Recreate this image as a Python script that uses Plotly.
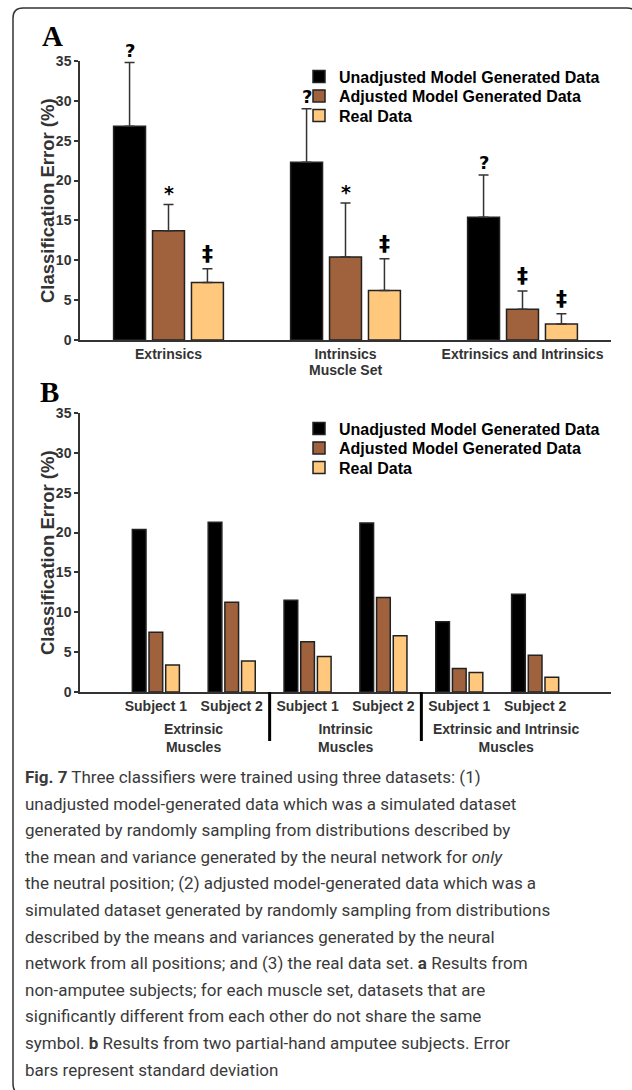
import plotly.graph_objects as go

W, H = 632, 1090

# ---------------- data ----------------
series_names = ["Unadjusted Model Generated Data", "Adjusted Model Generated Data", "Real Data"]
series_colors = ["#000000", "#A0623C", "#FFC87D"]

# Panel A (non-amputee subjects), mean and SD
muscle_sets_a = ["Extrinsics", "Intrinsics", "Extrinsics and Intrinsics"]
unadj_a = [26.8, 22.3, 15.4]
unadj_a_sd = [8.0, 6.7, 5.3]
adj_a = [13.7, 10.4, 3.85]
adj_a_sd = [3.3, 6.8, 2.3]
real_a = [7.2, 6.2, 2.0]
real_a_sd = [1.75, 4.0, 1.3]
sig_unadj_a = ["?", "?", "?"]
sig_adj_a = ["*", "*", "\u2021"]
sig_real_a = ["\u2021", "\u2021", "\u2021"]
x_title_a = "Muscle Set"

# Panel B (partial-hand amputee subjects)
subjects_b = ["Subject 1", "Subject 2", "Subject 1", "Subject 2", "Subject 1", "Subject 2"]
groups_b = ["Extrinsic<br>Muscles", "Intrinsic<br>Muscles", "Extrinsic and Intrinsic<br>Muscles"]
unadj_b = [20.4, 21.3, 11.5, 21.2, 8.8, 12.25]
adj_b = [7.5, 11.25, 6.3, 11.85, 2.95, 4.6]
real_b = [3.4, 3.9, 4.45, 7.05, 2.45, 1.85]

y_title = "Classification Error (%)"

caption_lines = [
    "<b>Fig. 7</b> Three classifiers were trained using three datasets: (1)",
    "unadjusted model-generated data which was a simulated dataset",
    "generated by randomly sampling from distributions described by",
    "the mean and variance generated by the neural network for <i>only</i>",
    "the neutral position; (2) adjusted model-generated data which was a",
    "simulated dataset generated by randomly sampling from distributions",
    "described by the means and variances generated by the neural",
    "network from all positions; and (3) the real data set. <b>a</b> Results from",
    "non-amputee subjects; for each muscle set, datasets that are",
    "significantly different from each other do not share the same",
    "symbol. <b>b</b> Results from two partial-hand amputee subjects. Error",
    "bars represent standard deviation",
]

# ---------------- helpers (page pixel -> paper fraction) ----------------
def px(x):
    return x / W

def py(y):
    return 1 - y / H

AX_FONT = "Liberation Sans, Arial, sans-serif"
AX_COLOR = "#333333"
TICKFONT = dict(family=AX_FONT, size=14, color=AX_COLOR, weight="bold")

fig = go.Figure()

legend_ids_a = ["legend", "legend2", "legend3"]
legend_ids_b = ["legend4", "legend5", "legend6"]

xa = list(range(len(muscle_sets_a)))
for name, col, vals, sds, lg in zip(series_names, series_colors,
                                    [unadj_a, adj_a, real_a],
                                    [unadj_a_sd, adj_a_sd, real_a_sd], legend_ids_a):
    fig.add_trace(go.Bar(
        x=xa, y=vals, name=name, xaxis="x", yaxis="y", legend=lg, showlegend=True,
        marker=dict(color=col, line=dict(color="#222222", width=1.5)),
        error_y=dict(type="data", symmetric=False, array=sds, arrayminus=[0] * len(sds),
                     color=AX_COLOR, thickness=1.5, width=5),
    ))

xb = list(range(len(subjects_b)))
for name, col, vals, lg in zip(series_names, series_colors, [unadj_b, adj_b, real_b], legend_ids_b):
    fig.add_trace(go.Bar(
        x=xb, y=vals, name=name, xaxis="x2", yaxis="y2", legend=lg, showlegend=True,
        marker=dict(color=col, line=dict(color="#222222", width=1.5)),
    ))

BARGAP = 0.34
BARGROUPGAP = 0.18
step = (1 - BARGAP) / 3

annotations = []
# significance symbols panel A
for j, (vals, sds, syms) in enumerate(zip([unadj_a, adj_a, real_a],
                                          [unadj_a_sd, adj_a_sd, real_a_sd],
                                          [sig_unadj_a, sig_adj_a, sig_real_a])):
    for i in range(len(vals)):
        s = syms[i]
        if s == "\u2021":
            f = dict(family="DejaVu Sans, sans-serif", size=22, color="#000000", weight="bold")
            ys = 1
        elif s == "*":
            f = dict(family="DejaVu Sans, sans-serif", size=19, color="#000000", weight="bold")
            ys = -2
        else:
            f = dict(family="DejaVu Sans, sans-serif", size=18, color="#000000", weight="bold")
            ys = 0
        annotations.append(dict(
            x=i + (j - 1) * step, y=vals[i] + sds[i], xref="x", yref="y",
            text=s, showarrow=False, yanchor="bottom", yshift=ys, font=f,
        ))

# y titles
for yc in [(61 + 340) / 2, (413 + 692) / 2]:
    annotations.append(dict(
        x=px(47.5), y=py(yc), xref="paper", yref="paper", text="<b>%s</b>" % y_title,
        textangle=-90, showarrow=False, xanchor="center", yanchor="middle",
        font=dict(family=AX_FONT, size=18.5, color=AX_COLOR),
    ))

# x title panel A
annotations.append(dict(
    x=1, y=py(370), xref="x", yref="paper", text=x_title_a,
    showarrow=False, xanchor="center", yanchor="middle",
    font=dict(family=AX_FONT, size=14, color=AX_COLOR, weight="bold"),
))

# group labels panel B
group_centers = [0.5, 2.5, 4.62]
for g, xc in zip(groups_b, group_centers):
    annotations.append(dict(
        x=xc, y=py(719), xref="x2", yref="paper", text=g,
        showarrow=False, xanchor="center", yanchor="top", align="center",
        font=dict(family=AX_FONT, size=14, color=AX_COLOR, weight="bold"),
    ))

# panel letters
annotations.append(dict(x=px(40), y=py(54), xref="paper", yref="paper", text="<b>A</b>",
                        showarrow=False, xanchor="left", yanchor="bottom",
                        font=dict(family="Liberation Serif, Times New Roman, serif", size=29, color="#000")))
annotations.append(dict(x=px(38), y=py(410), xref="paper", yref="paper", text="<b>B</b>",
                        showarrow=False, xanchor="left", yanchor="bottom",
                        font=dict(family="Liberation Serif, Times New Roman, serif", size=29, color="#000")))

# caption lines
for k, line in enumerate(caption_lines):
    annotations.append(dict(
        x=px(23), y=py(777 + k * 26.6), xref="paper", yref="paper", text=line,
        showarrow=False, xanchor="left", yanchor="middle", align="left",
        font=dict(family="Roboto, sans-serif", size=17, color="#3a3a3a"),
    ))

shapes = []
# separators panel B
for xs in [1.5, 3.5]:
    shapes.append(dict(type="line", xref="x2", yref="paper", x0=xs, x1=xs,
                       y0=py(692), y1=py(741), line=dict(color="#000000", width=3)))

# rounded frame (right and bottom edges fall just outside the picture)
L, T, R, B, r = 13, 8, 637, 1094, 10
path = ("M %f,%f L %f,%f Q %f,%f %f,%f L %f,%f Q %f,%f %f,%f L %f,%f Q %f,%f %f,%f L %f,%f Q %f,%f %f,%f Z" % (
    px(L + r), py(T), px(R - r), py(T), px(R), py(T), px(R), py(T + r),
    px(R), py(B - r), px(R), py(B), px(R - r), py(B),
    px(L + r), py(B), px(L), py(B), px(L), py(B - r),
    px(L), py(T + r), px(L), py(T), px(L + r), py(T)))
shapes.append(dict(type="path", xref="paper", yref="paper", path=path,
                   line=dict(color="#333333", width=1.5)))

axis_common = dict(showline=True, linecolor=AX_COLOR, linewidth=1.5, showgrid=False,
                   zeroline=False, automargin=False)

LEGFONT = dict(family=AX_FONT, size=16, color="#000", weight="bold")

legends = {}
for lg, yc in zip(legend_ids_a + legend_ids_b, [76.5, 96, 115.5, 428.5, 448, 467.5]):
    legends[lg] = dict(x=px(299), y=py(yc), xanchor="left", yanchor="middle",
                       bgcolor="rgba(0,0,0,0)", font=LEGFONT, itemwidth=30,
                       borderwidth=0)

fig.update_layout(
    width=W, height=H, margin=dict(l=0, r=0, t=0, b=0, autoexpand=False),
    paper_bgcolor="white", plot_bgcolor="white",
    barmode="group", bargap=BARGAP, bargroupgap=BARGROUPGAP,
    xaxis=dict(domain=[px(80), px(611)], range=[-0.5, 2.5], tickvals=xa, ticktext=muscle_sets_a,
               ticks="", anchor="y", tickfont=TICKFONT, **axis_common),
    yaxis=dict(domain=[py(340), py(61)], range=[0, 35], dtick=5, ticks="outside", ticklen=4,
               tickwidth=1.5, tickcolor=AX_COLOR, anchor="x", tickfont=TICKFONT, **axis_common),
    xaxis2=dict(domain=[px(80), px(611)], range=[-1, 6], tickvals=xb, ticktext=subjects_b,
                ticks="", anchor="y2", tickfont=TICKFONT, **axis_common),
    yaxis2=dict(domain=[py(692), py(413)], range=[0, 35], dtick=5, ticks="outside", ticklen=4,
                tickwidth=1.5, tickcolor=AX_COLOR, anchor="x2", tickfont=TICKFONT, **axis_common),
    annotations=annotations, shapes=shapes,
    **legends,
)

fig.write_html("out.html")
